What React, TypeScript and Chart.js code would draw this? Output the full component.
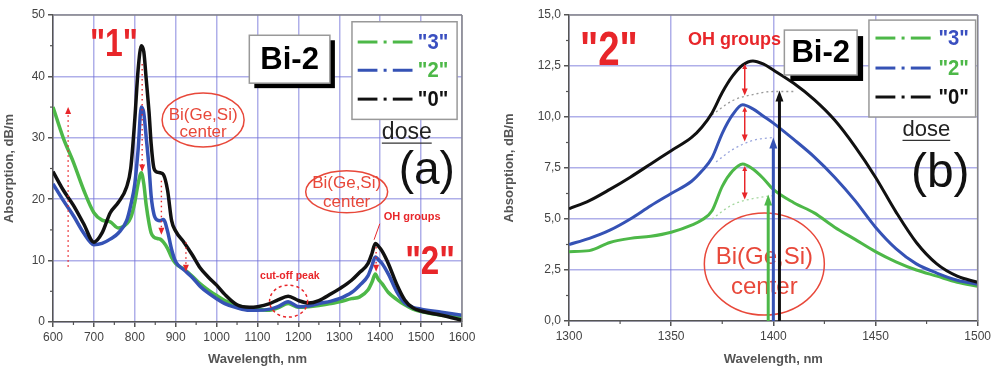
import React, { useEffect, useRef } from 'react';
import { Chart, registerables } from 'chart.js';

Chart.register(...registerables);

// ---------- Panel (a) data ----------
const wavelengthA = [600, 625, 650, 675, 700, 720, 740, 760, 780, 790, 800, 808, 816, 822, 828, 835, 840, 847, 855, 862, 870, 880, 890, 900, 920, 940, 960, 980, 1000, 1020, 1050, 1080, 1100, 1130, 1150, 1175, 1200, 1225, 1250, 1280, 1300, 1330, 1350, 1370, 1380, 1388, 1395, 1405, 1420, 1440, 1460, 1480, 1500, 1550, 1600];
const dose0A = [24.5, 21.5, 19.0, 16.0, 13.0, 14.5, 17.8, 19.5, 22.0, 25.0, 33.0, 41.0, 45.0, 44.0, 39.5, 34.0, 29.0, 25.0, 24.4, 24.3, 24.0, 21.5, 16.5, 14.8, 13.0, 11.0, 8.8, 7.3, 6.0, 4.5, 2.8, 2.4, 2.5, 3.0, 3.6, 4.2, 3.5, 3.1, 3.5, 4.6, 5.4, 6.8, 8.1, 9.5, 11.2, 12.8, 12.4, 11.5, 9.5, 6.2, 3.6, 2.3, 1.8, 1.1, 0.3];
const dose2A = [22.5, 19.8, 17.3, 14.5, 12.6, 12.8, 13.5, 14.5, 16.5, 19.0, 22.5, 28.0, 35.0, 34.0, 30.0, 25.0, 20.5, 17.5, 16.6, 16.5, 16.7, 14.8, 11.8, 9.8, 8.5, 7.3, 5.8, 4.7, 3.8, 3.0, 2.3, 1.9, 1.9, 2.1, 2.5, 3.3, 2.5, 2.6, 3.0, 3.4, 3.8, 4.8, 6.0, 7.5, 9.2, 10.6, 10.2, 9.5, 7.8, 5.0, 3.1, 2.4, 2.1, 1.6, 1.1];
const dose3A = [35.0, 30.0, 26.0, 21.5, 17.8, 16.6, 16.3, 15.3, 16.0, 17.0, 19.5, 22.5, 24.3, 22.5, 19.0, 16.0, 14.5, 13.8, 13.6, 13.5, 13.0, 12.0, 10.5, 9.5, 8.6, 7.5, 6.2, 5.2, 4.3, 3.5, 2.7, 2.2, 2.1, 1.9, 2.3, 3.0, 2.4, 2.5, 2.7, 3.0, 3.3, 3.8, 4.1, 5.2, 6.5, 7.8, 7.0, 6.2, 4.8, 3.7, 2.8, 2.1, 1.7, 1.1, 0.8];

// ---------- Panel (b) data ----------
const wavelengthB = [1300, 1310, 1320, 1330, 1340, 1350, 1360, 1365, 1370, 1375, 1380, 1385, 1390, 1395, 1400, 1410, 1420, 1430, 1440, 1450, 1460, 1470, 1480, 1490, 1500];
const dose0B = [5.5, 5.9, 6.45, 7.05, 7.7, 8.35, 9.0, 9.5, 10.2, 11.2, 12.0, 12.55, 12.75, 12.6, 12.3, 11.65, 10.85, 9.85, 8.55, 7.05, 5.35, 3.85, 2.8, 2.2, 1.9];
const dose2B = [3.75, 4.05, 4.45, 5.0, 5.65, 6.25, 6.85, 7.35, 8.0, 9.2, 10.1, 10.6, 10.4, 10.05, 9.7, 8.9, 8.05, 7.05, 5.9, 4.6, 3.55, 2.8, 2.35, 2.0, 1.8];
const dose3B = [3.4, 3.45, 3.85, 4.05, 4.15, 4.35, 4.7, 4.95, 5.4, 6.6, 7.35, 7.7, 7.45, 7.0, 6.45, 5.8, 5.3, 4.6, 4.0, 3.4, 2.9, 2.5, 2.2, 1.9, 1.7];
// dotted baselines under the OH peak (panel b)
const baseWl0B = [1370, 1380, 1390, 1400, 1410];
const base0B = [10.1, 10.8, 11.1, 11.25, 11.25];
const baseWl2B = [1372, 1380, 1390, 1400];
const base2B = [7.8, 8.4, 8.85, 9.0];
const baseWl3B = [1370, 1380, 1390, 1400];
const base3B = [5.0, 5.7, 6.0, 6.15];

const seriesLabels = ['"0"', '"2"', '"3"'];
const legendTextColors = ['#3a4fc0', '#4db848', '#111111']; // for "3","2","0" rows

const GREEN = '#4db848';
const BLUE = '#3552b5';
const BLACK = '#111111';
const RED = '#e8262a';
const GRID = 'rgba(110,110,215,0.55)';
const AXIS = '#555555';
const FONT = "'Liberation Sans', Arial, sans-serif";

const pts = (xs: number[], ys: number[]) => xs.map((x, i) => ({ x, y: ys[i] }));

function txt(ctx: CanvasRenderingContext2D, s: string, x: number, y: number, font: string, color: string, align: CanvasTextAlign = 'center', base: CanvasTextBaseline = 'middle', sx = 1) {
  ctx.save();
  ctx.font = font;
  ctx.fillStyle = color;
  ctx.textAlign = align;
  ctx.textBaseline = base;
  ctx.translate(x, y);
  ctx.scale(sx, 1);
  ctx.fillText(s, 0, 0);
  ctx.restore();
}

function line(ctx: CanvasRenderingContext2D, x1: number, y1: number, x2: number, y2: number) {
  ctx.beginPath();
  ctx.moveTo(x1, y1);
  ctx.lineTo(x2, y2);
  ctx.stroke();
}

function head(ctx: CanvasRenderingContext2D, x: number, y: number, up: boolean, w: number, h: number, color: string) {
  ctx.save();
  ctx.fillStyle = color;
  ctx.beginPath();
  if (up) {
    ctx.moveTo(x, y);
    ctx.lineTo(x - w / 2, y + h);
    ctx.lineTo(x + w / 2, y + h);
  } else {
    ctx.moveTo(x, y);
    ctx.lineTo(x - w / 2, y - h);
    ctx.lineTo(x + w / 2, y - h);
  }
  ctx.closePath();
  ctx.fill();
  ctx.restore();
}

function ellipse(ctx: CanvasRenderingContext2D, cx: number, cy: number, rx: number, ry: number, color: string, dash: number[] = []) {
  ctx.save();
  ctx.strokeStyle = color;
  ctx.lineWidth = 1.5;
  ctx.setLineDash(dash);
  ctx.beginPath();
  ctx.ellipse(cx, cy, rx, ry, 0, 0, Math.PI * 2);
  ctx.stroke();
  ctx.restore();
}

function badge(ctx: CanvasRenderingContext2D, l: number, t: number, r: number, b: number, sh: number, size: number) {
  ctx.save();
  ctx.fillStyle = '#000';
  ctx.fillRect(l + sh, t + sh, r - l, b - t);
  ctx.fillStyle = '#fff';
  ctx.fillRect(l, t, r - l, b - t);
  ctx.strokeStyle = '#999';
  ctx.lineWidth = 1.5;
  ctx.strokeRect(l, t, r - l, b - t);
  ctx.restore();
  txt(ctx, 'Bi-2', (l + r) / 2, (t + b) / 2 + 1, `bold ${size}px ${FONT}`, '#000');
}

function legend(ctx: CanvasRenderingContext2D, chart: any, l: number, t: number, r: number, b: number, rows: number[], sx1: number, sx2: number, tx: number, size: number) {
  ctx.save();
  ctx.fillStyle = '#fff';
  ctx.fillRect(l, t, r - l, b - t);
  ctx.strokeStyle = '#999';
  ctx.lineWidth = 1.5;
  ctx.strokeRect(l, t, r - l, b - t);
  const order = [2, 1, 0];
  order.forEach((di, i) => {
    const ds = chart.data.datasets[di];
    const yy = rows[i];
    const w = sx2 - sx1;
    const d = w * 0.36;
    ctx.strokeStyle = ds.borderColor;
    ctx.lineWidth = 3;
    line(ctx, sx1, yy, sx1 + d, yy);
    line(ctx, sx2 - d, yy, sx2, yy);
    ctx.fillStyle = ds.borderColor;
    ctx.fillRect((sx1 + sx2) / 2 - 1.5, yy - 1.5, 3, 3);
    txt(ctx, ds.label, tx, yy + 1, `bold ${size}px ${FONT}`, legendTextColors[i], 'left', 'middle', 0.92);
  });
  ctx.restore();
}

function underlined(ctx: CanvasRenderingContext2D, s: string, cx: number, baseY: number, size: number) {
  ctx.save();
  ctx.font = `${size}px ${FONT}`;
  const w = ctx.measureText(s).width;
  ctx.restore();
  txt(ctx, s, cx, baseY, `${size}px ${FONT}`, '#222', 'center', 'alphabetic');
  ctx.save();
  ctx.strokeStyle = '#333';
  ctx.lineWidth = 1.2;
  line(ctx, cx - w / 2, baseY + 4, cx + w / 2, baseY + 4);
  ctx.restore();
}

const framePlugin = {
  id: 'frameMinor',
  afterDatasetsDraw(chart: any) {
    const { ctx, chartArea: ca, scales } = chart;
    const x = scales.x;
    const y = scales.y;
    ctx.save();
    ctx.strokeStyle = '#888';
    ctx.lineWidth = 1.5;
    line(ctx, ca.left, ca.top, ca.right, ca.top);
    line(ctx, ca.right, ca.top, ca.right, ca.bottom);
    ctx.strokeStyle = AXIS;
    ctx.lineWidth = 1.2;
    const xs = x.options.ticks.stepSize;
    for (let v = x.min + xs / 2; v < x.max; v += xs) {
      const p = x.getPixelForValue(v);
      line(ctx, p, ca.bottom, p, ca.bottom + 3);
    }
    const ys = y.options.ticks.stepSize;
    for (let v = y.min + ys / 2; v < y.max; v += ys) {
      const p = y.getPixelForValue(v);
      line(ctx, ca.left - 3, p, ca.left, p);
    }
    ctx.restore();
  },
};

function annotA(chart: any) {
  const { ctx, scales } = chart;
  const X = (v: number) => scales.x.getPixelForValue(v);
  const Y = (v: number) => scales.y.getPixelForValue(v);
  ctx.save();
  // red dotted arrows
  const dotted = (wl: number, from: number, to: number, up: boolean) => {
    ctx.save();
    ctx.strokeStyle = RED;
    ctx.lineWidth = 1.4;
    ctx.setLineDash([1.5, 3.5]);
    line(ctx, X(wl), Y(from), X(wl), Y(to));
    ctx.restore();
    head(ctx, X(wl), Y(to), up, 6, 7, RED);
  };
  dotted(637, 9, 35, true);
  dotted(818, 42, 24.5, false);
  dotted(865, 23, 14.2, false);
  dotted(925, 13, 8.2, false);
  dotted(1390, 12.2, 8.2, false);

  txt(ctx, '"1"', X(749), Y(45.1), `bold 38px ${FONT}`, RED, 'center', 'middle', 0.84);
  badge(ctx, X(1080), Y(46.7), X(1277), Y(38.9), 5, 31);
  legend(ctx, chart, X(1331), Y(48.9), X(1588), Y(33.0), [Y(45.6), Y(41.0), Y(36.3)], X(1345), X(1479), X(1492), 22);
  underlined(ctx, 'dose', X(1465), Y(29.8), 23);
  txt(ctx, '(a)', X(1514), Y(24.5), `46px ${FONT}`, '#111');

  ellipse(ctx, X(967), Y(32.9), 41, 27, '#e8483a');
  txt(ctx, 'Bi(Ge,Si)', X(967), Y(32.9) - 5, `17px ${FONT}`, '#e8483a');
  txt(ctx, 'center', X(967), Y(32.9) + 12, `17px ${FONT}`, '#e8483a');

  ellipse(ctx, X(1318), Y(21.2), 41, 21, '#e8483a');
  txt(ctx, 'Bi(Ge,Si)', X(1318), Y(21.2) - 9, `17px ${FONT}`, '#e8483a');
  txt(ctx, 'center', X(1318), Y(21.2) + 10, `17px ${FONT}`, '#e8483a');

  txt(ctx, 'OH groups', X(1478), Y(17.1), `bold 11px ${FONT}`, RED);
  ctx.strokeStyle = RED;
  ctx.lineWidth = 1;
  line(ctx, X(1399), Y(16.0), X(1385), Y(13.4));
  txt(ctx, '"2"', X(1522), Y(9.6), `bold 40px ${FONT}`, RED, 'center', 'middle', 0.83);

  txt(ctx, 'cut-off peak', X(1179), Y(7.5), `bold 10.5px ${FONT}`, RED);
  ellipse(ctx, X(1176), Y(3.4), 19, 16, RED, [3, 3]);
  ctx.restore();
}

function annotB(chart: any) {
  const { ctx, scales } = chart;
  const X = (v: number) => scales.x.getPixelForValue(v);
  const Y = (v: number) => scales.y.getPixelForValue(v);
  ctx.save();
  // red double arrows between peaks and baselines
  const dbl = (wl: number, top: number, bottom: number) => {
    ctx.save();
    ctx.strokeStyle = RED;
    ctx.lineWidth = 1.5;
    line(ctx, X(wl), Y(top) + 3, X(wl), Y(bottom) - 3);
    ctx.restore();
    head(ctx, X(wl), Y(bottom), false, 6, 7, RED);
    head(ctx, X(wl), Y(top), true, 5, 5, RED);
  };
  dbl(1386, 12.6, 11.05);
  dbl(1386, 10.5, 8.8);
  dbl(1386, 7.6, 5.95);

  txt(ctx, '"2"', X(1319.5), Y(13.2), `bold 48px ${FONT}`, RED, 'center', 'middle', 0.8);
  txt(ctx, 'OH groups', X(1381), Y(13.75), `bold 18px ${FONT}`, RED);
  badge(ctx, X(1405.4), Y(14.26), X(1441), Y(12.06), 6, 31);
  legend(ctx, chart, X(1446.8), Y(14.75), X(1499), Y(10.0), [Y(13.87), Y(12.4), Y(10.98)], X(1450), X(1477), X(1480.8), 22);
  underlined(ctx, 'dose', X(1474.9), Y(9.05), 22);
  txt(ctx, '(b)', X(1481.7), Y(7.23), `48px ${FONT}`, '#111');

  ellipse(ctx, X(1395.6), Y(2.79), 60, 51, '#e8483a');
  txt(ctx, 'Bi(Ge,Si)', X(1395.6), Y(2.79) - 7, `24px ${FONT}`, '#e8483a');
  txt(ctx, 'center', X(1395.6), Y(2.79) + 23, `24px ${FONT}`, '#e8483a');

  const up = (wl: number, to: number, color: string) => {
    ctx.save();
    ctx.strokeStyle = color;
    ctx.lineWidth = 3;
    line(ctx, X(wl), Y(0), X(wl), Y(to) + 8);
    ctx.restore();
    head(ctx, X(wl), Y(to), true, 8, 11, color);
  };
  up(1397.5, 6.2, GREEN);
  up(1400, 9.0, BLUE);
  up(1403, 11.3, BLACK);
  ctx.restore();
}

function scaleOpts(min: number, max: number, step: number, fmt: (v: number) => string, title: string, fit: (s: any) => void) {
  return {
    type: 'linear',
    min,
    max,
    afterFit: fit,
    ticks: {
      stepSize: step,
      autoSkip: false,
      maxRotation: 0,
      padding: 3,
      color: '#444',
      font: { family: FONT, size: 12 },
      callback: (v: any) => fmt(Number(v)),
    },
    grid: { color: GRID, lineWidth: 1.5, tickLength: 5, tickColor: AXIS, tickWidth: 1.5 },
    border: { color: AXIS, width: 1.5 },
    title: { display: true, text: title, color: '#555', font: { family: FONT, size: 13, weight: 'bold' }, padding: { top: 2, bottom: 4 } },
  };
}

function lineDs(label: string, data: any[], color: string, width: number) {
  return { label, data, borderColor: color, backgroundColor: color, borderWidth: width, pointRadius: 0, fill: false, cubicInterpolationMode: 'monotone' };
}

function configA(): any {
  return {
    type: 'line',
    data: {
      datasets: [
        lineDs(seriesLabels[0], pts(wavelengthA, dose0A), BLACK, 3.5),
        lineDs(seriesLabels[1], pts(wavelengthA, dose2A), BLUE, 3.5),
        lineDs(seriesLabels[2], pts(wavelengthA, dose3A), GREEN, 3.5),
      ],
    },
    options: {
      responsive: false,
      animation: false,
      devicePixelRatio: 1,
      layout: { padding: { left: 0, top: 15, right: 28, bottom: 0 } },
      plugins: { legend: { display: false }, tooltip: { enabled: false } },
      scales: {
        x: scaleOpts(600, 1600, 100, (v) => String(v), 'Wavelength, nm', (s: any) => { s.height = 49; }),
        y: scaleOpts(0, 50, 10, (v) => String(v), 'Absorption, dB/m', (s: any) => { s.width = 53; }),
      },
    },
    plugins: [framePlugin, { id: 'annA', afterDraw: annotA }],
  };
}

function configB(): any {
  const faint = (label: string, data: any[], color: string) => ({ ...lineDs(label, data, color, 1.3), borderDash: [2, 3], cubicInterpolationMode: 'monotone' });
  return {
    type: 'line',
    data: {
      datasets: [
        lineDs(seriesLabels[0], pts(wavelengthB, dose0B), BLACK, 3),
        lineDs(seriesLabels[1], pts(wavelengthB, dose2B), BLUE, 3),
        lineDs(seriesLabels[2], pts(wavelengthB, dose3B), GREEN, 3),
        faint('base0', pts(baseWl0B, base0B), '#999999'),
        faint('base2', pts(baseWl2B, base2B), '#9aa6dd'),
        faint('base3', pts(baseWl3B, base3B), '#a6d8a0'),
      ],
    },
    options: {
      responsive: false,
      animation: false,
      devicePixelRatio: 1,
      layout: { padding: { left: 0, top: 15, right: 15, bottom: 0 } },
      plugins: { legend: { display: false }, tooltip: { enabled: false } },
      scales: {
        x: scaleOpts(1300, 1500, 50, (v) => String(v), 'Wavelength, nm', (s: any) => { s.height = 50; }),
        y: scaleOpts(0, 15, 2.5, (v) => v.toFixed(1).replace('.', ','), 'Absorption, dB/m', (s: any) => { s.width = 69; }),
      },
    },
    plugins: [framePlugin, { id: 'annB', afterDraw: annotB }],
  };
}

export default function App() {
  const refA = useRef<HTMLCanvasElement>(null);
  const refB = useRef<HTMLCanvasElement>(null);
  useEffect(() => {
    const a = new Chart(refA.current as HTMLCanvasElement, configA());
    const b = new Chart(refB.current as HTMLCanvasElement, configB());
    return () => {
      a.destroy();
      b.destroy();
    };
  }, []);
  return (
    <div style={{ position: 'absolute', left: 0, top: 0, width: 994, height: 371, background: '#fff', overflow: 'hidden' }}>
      <canvas ref={refA} width={490} height={371} style={{ position: 'absolute', left: 0, top: 0, width: 490, height: 371 }} />
      <canvas ref={refB} width={494} height={371} style={{ position: 'absolute', left: 500, top: 0, width: 494, height: 371 }} />
    </div>
  );
}
